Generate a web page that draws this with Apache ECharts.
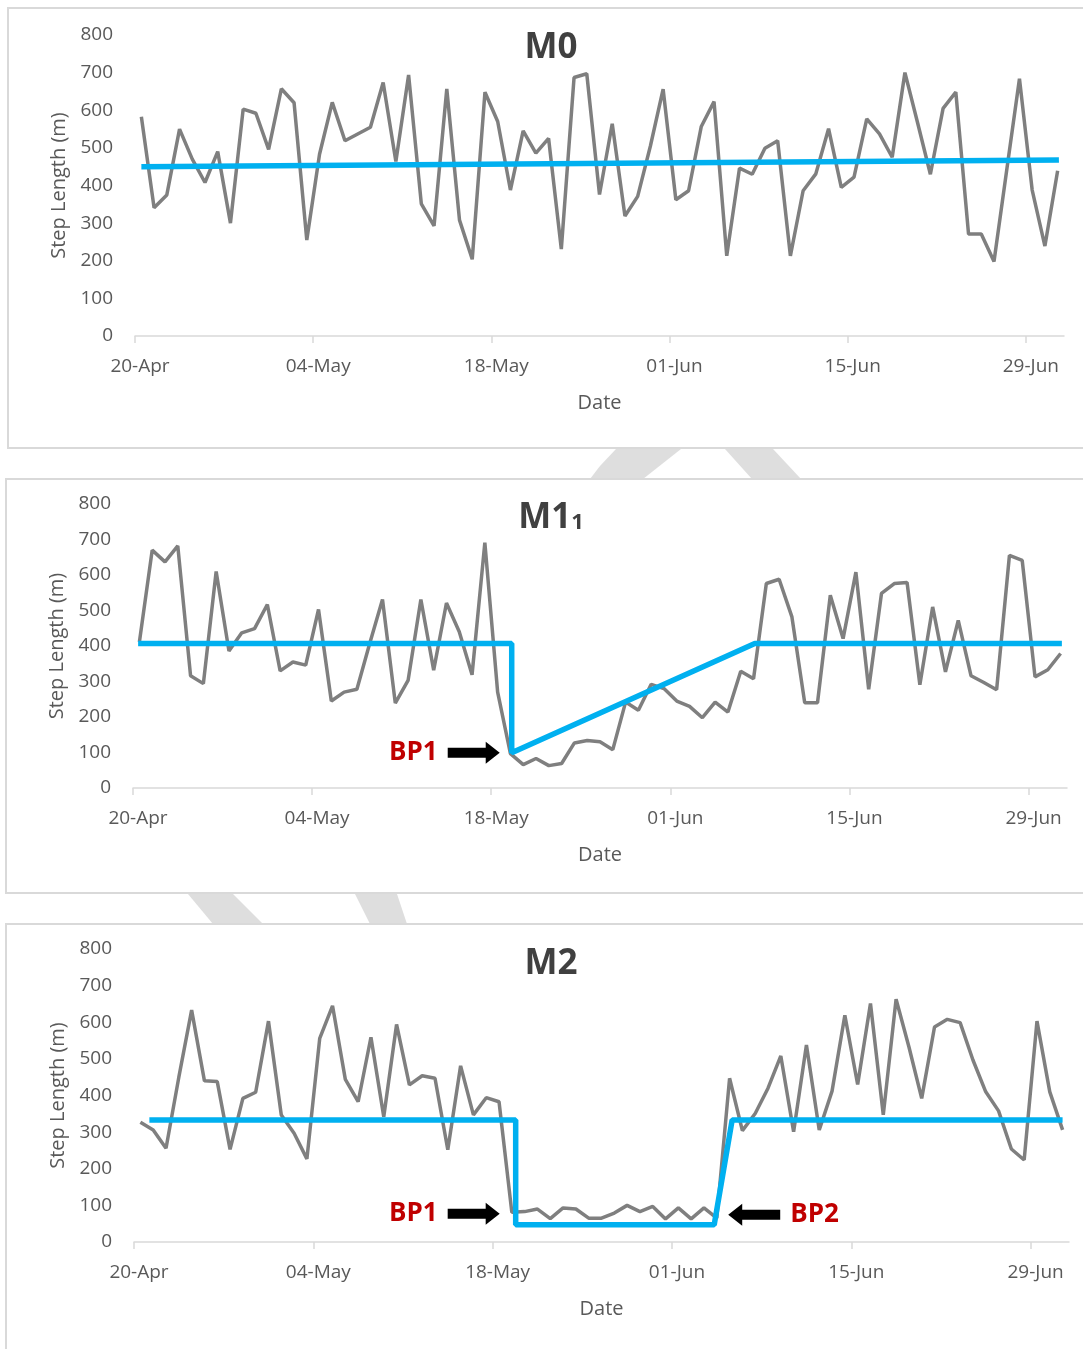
<!DOCTYPE html>
<html lang="en">
<head>
<meta charset="UTF-8">
<title>Step length models</title>
<script src="https://cdn.jsdelivr.net/npm/echarts@6/dist/echarts.min.js"></script>
<style>
  html, body { margin: 0; padding: 0; background: #fff; }
  #main { width: 1083px; height: 1349px; }
</style>
</head>
<body>
<div id="main"></div>
<script>
// daily step length (m), one value per day from 20-Apr to 01-Jul
var stepM0 = [583, 341, 375, 550, 470, 408, 490, 300, 603, 592,
              496, 657, 620, 255, 483, 621, 519, 537, 555, 674,
              464, 694, 351, 293, 657, 308, 204, 648, 570, 388,
              545, 486, 525, 231, 687, 697, 376, 564, 319, 371,
              505, 656, 362, 386, 557, 623, 213, 446, 430, 499,
              519, 213, 386, 431, 551, 395, 422, 577, 537, 475,
              700, 566, 430, 605, 648, 271, 271, 198, 441, 684,
              388, 239, 439];
var stepM1 = [411, 670, 637, 682, 316, 294, 610, 386, 437, 449,
              517, 330, 355, 346, 503, 245, 270, 278, 407, 531,
              239, 303, 531, 332, 521, 440, 319, 691, 270, 97,
              66, 83, 63, 69, 127, 134, 130, 108, 242, 219,
              292, 280, 245, 230, 198, 242, 214, 329, 308, 576,
              588, 482, 240, 240, 543, 421, 608, 278, 548, 576,
              579, 291, 510, 327, 472, 316, 297, 277, 655, 641,
              313, 333, 379];
var stepM2 = [327, 306, 256, 450, 633, 440, 438, 253, 392, 409,
              603, 347, 297, 227, 556, 645, 444, 383, 559, 342,
              594, 429, 454, 447, 252, 481, 347, 394, 383, 81,
              83, 90, 64, 93, 90, 65, 65, 79, 100, 83,
              97, 63, 93, 63, 93, 65, 447, 304, 351, 420,
              508, 301, 538, 306, 412, 619, 430, 651, 347, 663,
              533, 392, 587, 608, 599, 497, 410, 358, 254, 224,
              603, 410, 306];

// fitted models as [day from 20-Apr, metres]
var modelM0 = [[0.5, 450], [72.6, 468]];
var modelM1 = [[0.4, 407], [29.6, 407], [29.6, 99], [48.6, 407], [72.6, 407]];
var modelM2 = [[1.2, 333], [29.8, 333], [29.8, 47], [45.3, 47], [46.7, 333], [72.5, 333]];

var tickDays = [0, 14, 28, 42, 56, 70];
var tickLabels = ['20-Apr', '04-May', '18-May', '01-Jun', '15-Jun', '29-Jun'];

var FONT = 'Open Sans';
var arrowRight = 'path://M0,6 L38,6 L38,0 L52,11 L38,22 L38,16 L0,16 Z';
var arrowLeft = 'path://M52,6 L14,6 L14,0 L0,11 L14,22 L14,16 L52,16 Z';

var chart = echarts.init(document.getElementById('main'));

function daily(values) {
  return values.map(function (v, i) { return [i + 0.5, v]; });
}

function bp(coord, text, right, offset) {
  return {
    coord: coord,
    symbol: right ? arrowRight : arrowLeft,
    symbolSize: [52, 22],
    symbolOffset: offset,
    itemStyle: { color: '#000' },
    label: {
      show: true, formatter: text,
      position: right ? 'left' : 'right', distance: 10,
      color: '#c00000', fontSize: 26, fontWeight: 'bold', fontFamily: FONT
    }
  };
}

var grids = [
  { left: 135, width: 929, top: 35, height: 301 },
  { left: 133, width: 934, top: 504, height: 284 },
  { left: 134, width: 935, top: 949, height: 293 }
];

var xAxes = [], yAxes = [], series = [];
var steps = [stepM0, stepM1, stepM2];
var models = [modelM0, modelM1, modelM2];
var marks = [
  [],
  [bp(modelM1[2], 'BP1', true, [-38, 0])],
  [bp(modelM2[2], 'BP1', true, [-42, -11]), bp(modelM2[3], 'BP2', false, [40, -10])]
];

for (var k = 0; k < 3; k++) {
  xAxes.push({
    gridIndex: k, type: 'value', min: 0, max: 73,
    name: 'Date', nameLocation: 'middle', nameGap: 57,
    nameTextStyle: { color: '#595959', fontSize: 20, fontFamily: FONT },
    axisLine: { lineStyle: { color: '#d9d9d9', width: 1.5 } },
    axisTick: { show: true, customValues: tickDays, length: 7, lineStyle: { color: '#d9d9d9', width: 1.5 } },
    axisLabel: {
      customValues: tickDays, margin: 21, padding: [0, 0, 0, 10],
      color: '#595959', fontSize: 19, fontFamily: FONT,
      formatter: function (v) { return tickLabels[tickDays.indexOf(Math.round(v))] || ''; }
    },
    splitLine: { show: false }
  });
  yAxes.push({
    gridIndex: k, type: 'value', min: 0, max: 800, interval: 100,
    name: 'Step Length (m)', nameLocation: 'middle', nameGap: 63,
    nameTextStyle: { color: '#595959', fontSize: 20, fontFamily: FONT },
    axisLine: { show: false }, axisTick: { show: false },
    axisLabel: { margin: 22, color: '#595959', fontSize: 19, fontFamily: FONT, padding: [3, 0, 0, 0] },
    splitLine: { show: false }
  });
  series.push({
    type: 'line', xAxisIndex: k, yAxisIndex: k,
    data: daily(steps[k]), showSymbol: false,
    lineStyle: { color: '#7f7f7f', width: 3.5 }, z: 2
  });
  series.push({
    type: 'line', xAxisIndex: k, yAxisIndex: k,
    data: models[k], showSymbol: false,
    lineStyle: { color: '#00b0f0', width: 5.5 }, z: 3,
    markPoint: { data: marks[k], silent: true }
  });
}

function titleText(y, text, rich) {
  return {
    type: 'text', x: 551, y: y,
    style: {
      text: text, align: 'center', verticalAlign: 'middle',
      fill: '#404040', fontSize: 35, fontWeight: 'bold', fontFamily: FONT,
      rich: rich
    }
  };
}

var option = {
  animation: false,
  backgroundColor: '#fff',
  grid: grids,
  xAxis: xAxes,
  yAxis: yAxes,
  series: series,
  graphic: [
    // faint watermark strokes showing between the panels
    { type: 'polygon', shape: { points: [[616, 449], [681, 449], [643, 479], [590, 479], [600, 466]] }, style: { fill: '#dedede' } },
    { type: 'polygon', shape: { points: [[725, 449], [773, 449], [801, 479], [752, 479]] }, style: { fill: '#dedede' } },
    { type: 'polygon', shape: { points: [[188, 894], [233, 894], [263, 924], [213, 924]] }, style: { fill: '#dedede' } },
    { type: 'polygon', shape: { points: [[355, 894], [397, 894], [407, 924], [370, 924]] }, style: { fill: '#dedede' } },
    // panel frames
    { type: 'rect', shape: { x: 8, y: 8, width: 1100, height: 440 }, style: { fill: 'none', stroke: '#d9d9d9', lineWidth: 2 } },
    { type: 'rect', shape: { x: 6, y: 479, width: 1100, height: 414 }, style: { fill: 'none', stroke: '#d9d9d9', lineWidth: 2 } },
    { type: 'rect', shape: { x: 6, y: 924, width: 1100, height: 450 }, style: { fill: 'none', stroke: '#d9d9d9', lineWidth: 2 } },
    titleText(48, 'M0'),
    titleText(518, '{a|M1}{b|1}', {
      a: { fontSize: 35, fontWeight: 'bold', fill: '#404040', fontFamily: FONT },
      b: { fontSize: 22, fontWeight: 'bold', fill: '#404040', fontFamily: FONT, verticalAlign: 'bottom', padding: [0, 0, 2, 0] }
    }),
    titleText(964, 'M2')
  ]
};

chart.setOption(option);
</script>
</body>
</html>
